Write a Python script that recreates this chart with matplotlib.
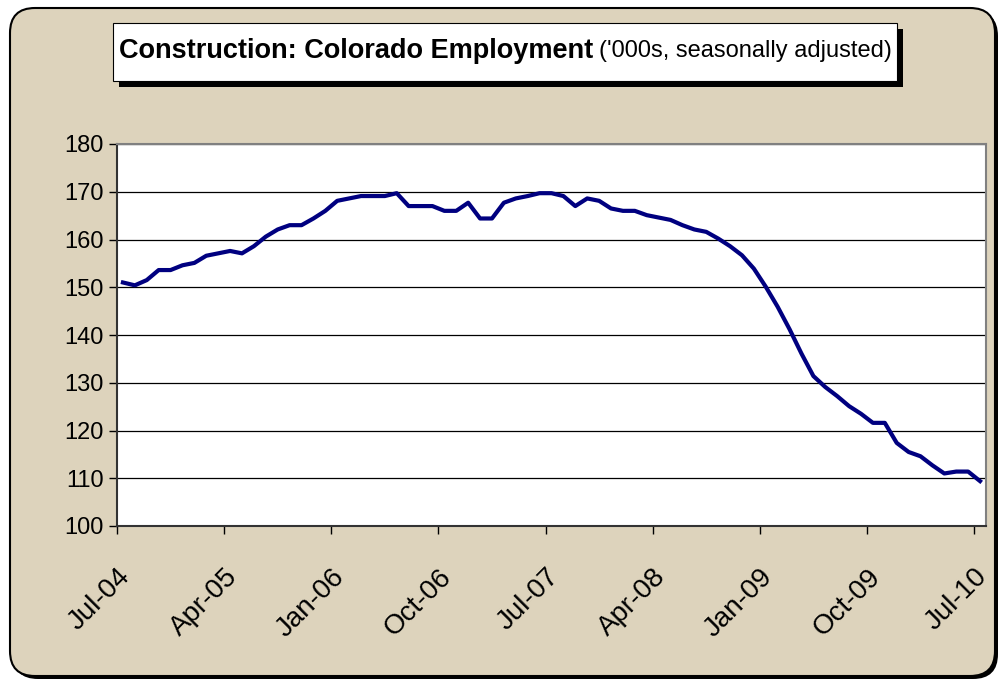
import numpy as np
import matplotlib
matplotlib.use("Agg")
import matplotlib.pyplot as plt
from matplotlib.patches import FancyBboxPatch, Rectangle

# monthly employment, Jul-04 .. Jul-10 ('000s)
values = [151.0, 150.4, 151.5, 153.6, 153.6, 154.6, 155.1, 156.6, 157.1, 157.6,
          157.1, 158.6, 160.6, 162.1, 163.0, 163.0, 164.4, 166.0, 168.1, 168.6,
          169.1, 169.1, 169.1, 169.7, 167.0, 167.0, 167.0, 166.0, 166.0, 167.7,
          164.4, 164.4, 167.7, 168.6, 169.1, 169.7, 169.7, 169.1, 167.0, 168.6,
          168.1, 166.5, 166.0, 166.0, 165.1, 164.6, 164.1, 163.0, 162.1, 161.6,
          160.2, 158.6, 156.7, 153.9, 150.1, 145.9, 141.2, 136.1, 131.4, 129.1,
          127.2, 125.1, 123.5, 121.6, 121.6, 117.4, 115.5, 114.6, 112.7, 111.0,
          111.4, 111.4, 109.4]
tick_labels = ["Jul-04", "Apr-05", "Jan-06", "Oct-06", "Jul-07",
               "Apr-08", "Jan-09", "Oct-09", "Jul-10"]
y_ticks = [100, 110, 120, 130, 140, 150, 160, 170, 180]

W, H = 1000, 681
bg = "#ddd3bc"

plt.rcParams["font.family"] = ["Liberation Sans", "DejaVu Sans"]

fig = plt.figure(figsize=(W / 100, H / 100), dpi=100, facecolor="white")


def fx(x):
    return x / W


def fy(y):
    return 1 - y / H


# outer frame with shadow (behind the axes)
shadow = FancyBboxPatch((fx(13), fy(679)), fx(985), 668 / H,
                        boxstyle="round,pad=0,rounding_size=0.025",
                        transform=fig.transFigure, facecolor="black",
                        edgecolor="none", mutation_aspect=W / H, zorder=-10)
frame = FancyBboxPatch((fx(10), fy(676)), fx(985), 668 / H,
                       boxstyle="round,pad=0,rounding_size=0.025",
                       transform=fig.transFigure, facecolor=bg,
                       edgecolor="black", linewidth=1.5, mutation_aspect=W / H,
                       zorder=-9)
fig.patches.extend([shadow, frame])

# title box with shadow
fig.patches.append(Rectangle((fx(119), fy(87)), fx(784), 58 / H,
                             transform=fig.transFigure, facecolor="black",
                             edgecolor="none", zorder=1))
fig.patches.append(Rectangle((fx(113), fy(81)), fx(784), 58 / H,
                             transform=fig.transFigure, facecolor="white",
                             edgecolor="black", linewidth=0.8, zorder=2))

t1 = fig.text(fx(119), fy(51), "Construction: Colorado Employment",
              weight="bold", fontsize=19.5, va="center", ha="left", zorder=3)
fig.canvas.draw()
bb = t1.get_window_extent()
fig.text(bb.x1 / W + fx(6), fy(51), "('000s, seasonally adjusted)",
         fontsize=17, va="center", ha="left", zorder=3)

# plot area
ax = fig.add_axes([fx(117), fy(526), fx(869), (526 - 144) / H])
ax.set_facecolor("white")
x = np.arange(len(values))
ax.plot(x, values, color="#000080", linewidth=3)
ax.set_xlim(-0.5, len(values) - 0.5)
ax.set_ylim(100, 180)
ax.set_yticks(y_ticks)
ax.set_yticklabels([str(v) for v in y_ticks], fontsize=17)
ax.yaxis.grid(True, color="black", linewidth=0.9)
ax.set_axisbelow(True)
ax.set_xticks(np.arange(len(tick_labels)) * 9 - 0.5)
ax.set_xticklabels(tick_labels, rotation=45, ha="right", va="top",
                   rotation_mode="anchor", fontsize=20)
ax.tick_params(axis="both", direction="out", length=6, width=1, color="black")
ax.tick_params(axis="x", pad=21)
for side in ["top", "right"]:
    ax.spines[side].set_color("#808080")
    ax.spines[side].set_linewidth(1.5)
for side in ["left", "bottom"]:
    ax.spines[side].set_color("#333333")
    ax.spines[side].set_linewidth(1.5)

fig.savefig("out.png", dpi=100, facecolor="white")
